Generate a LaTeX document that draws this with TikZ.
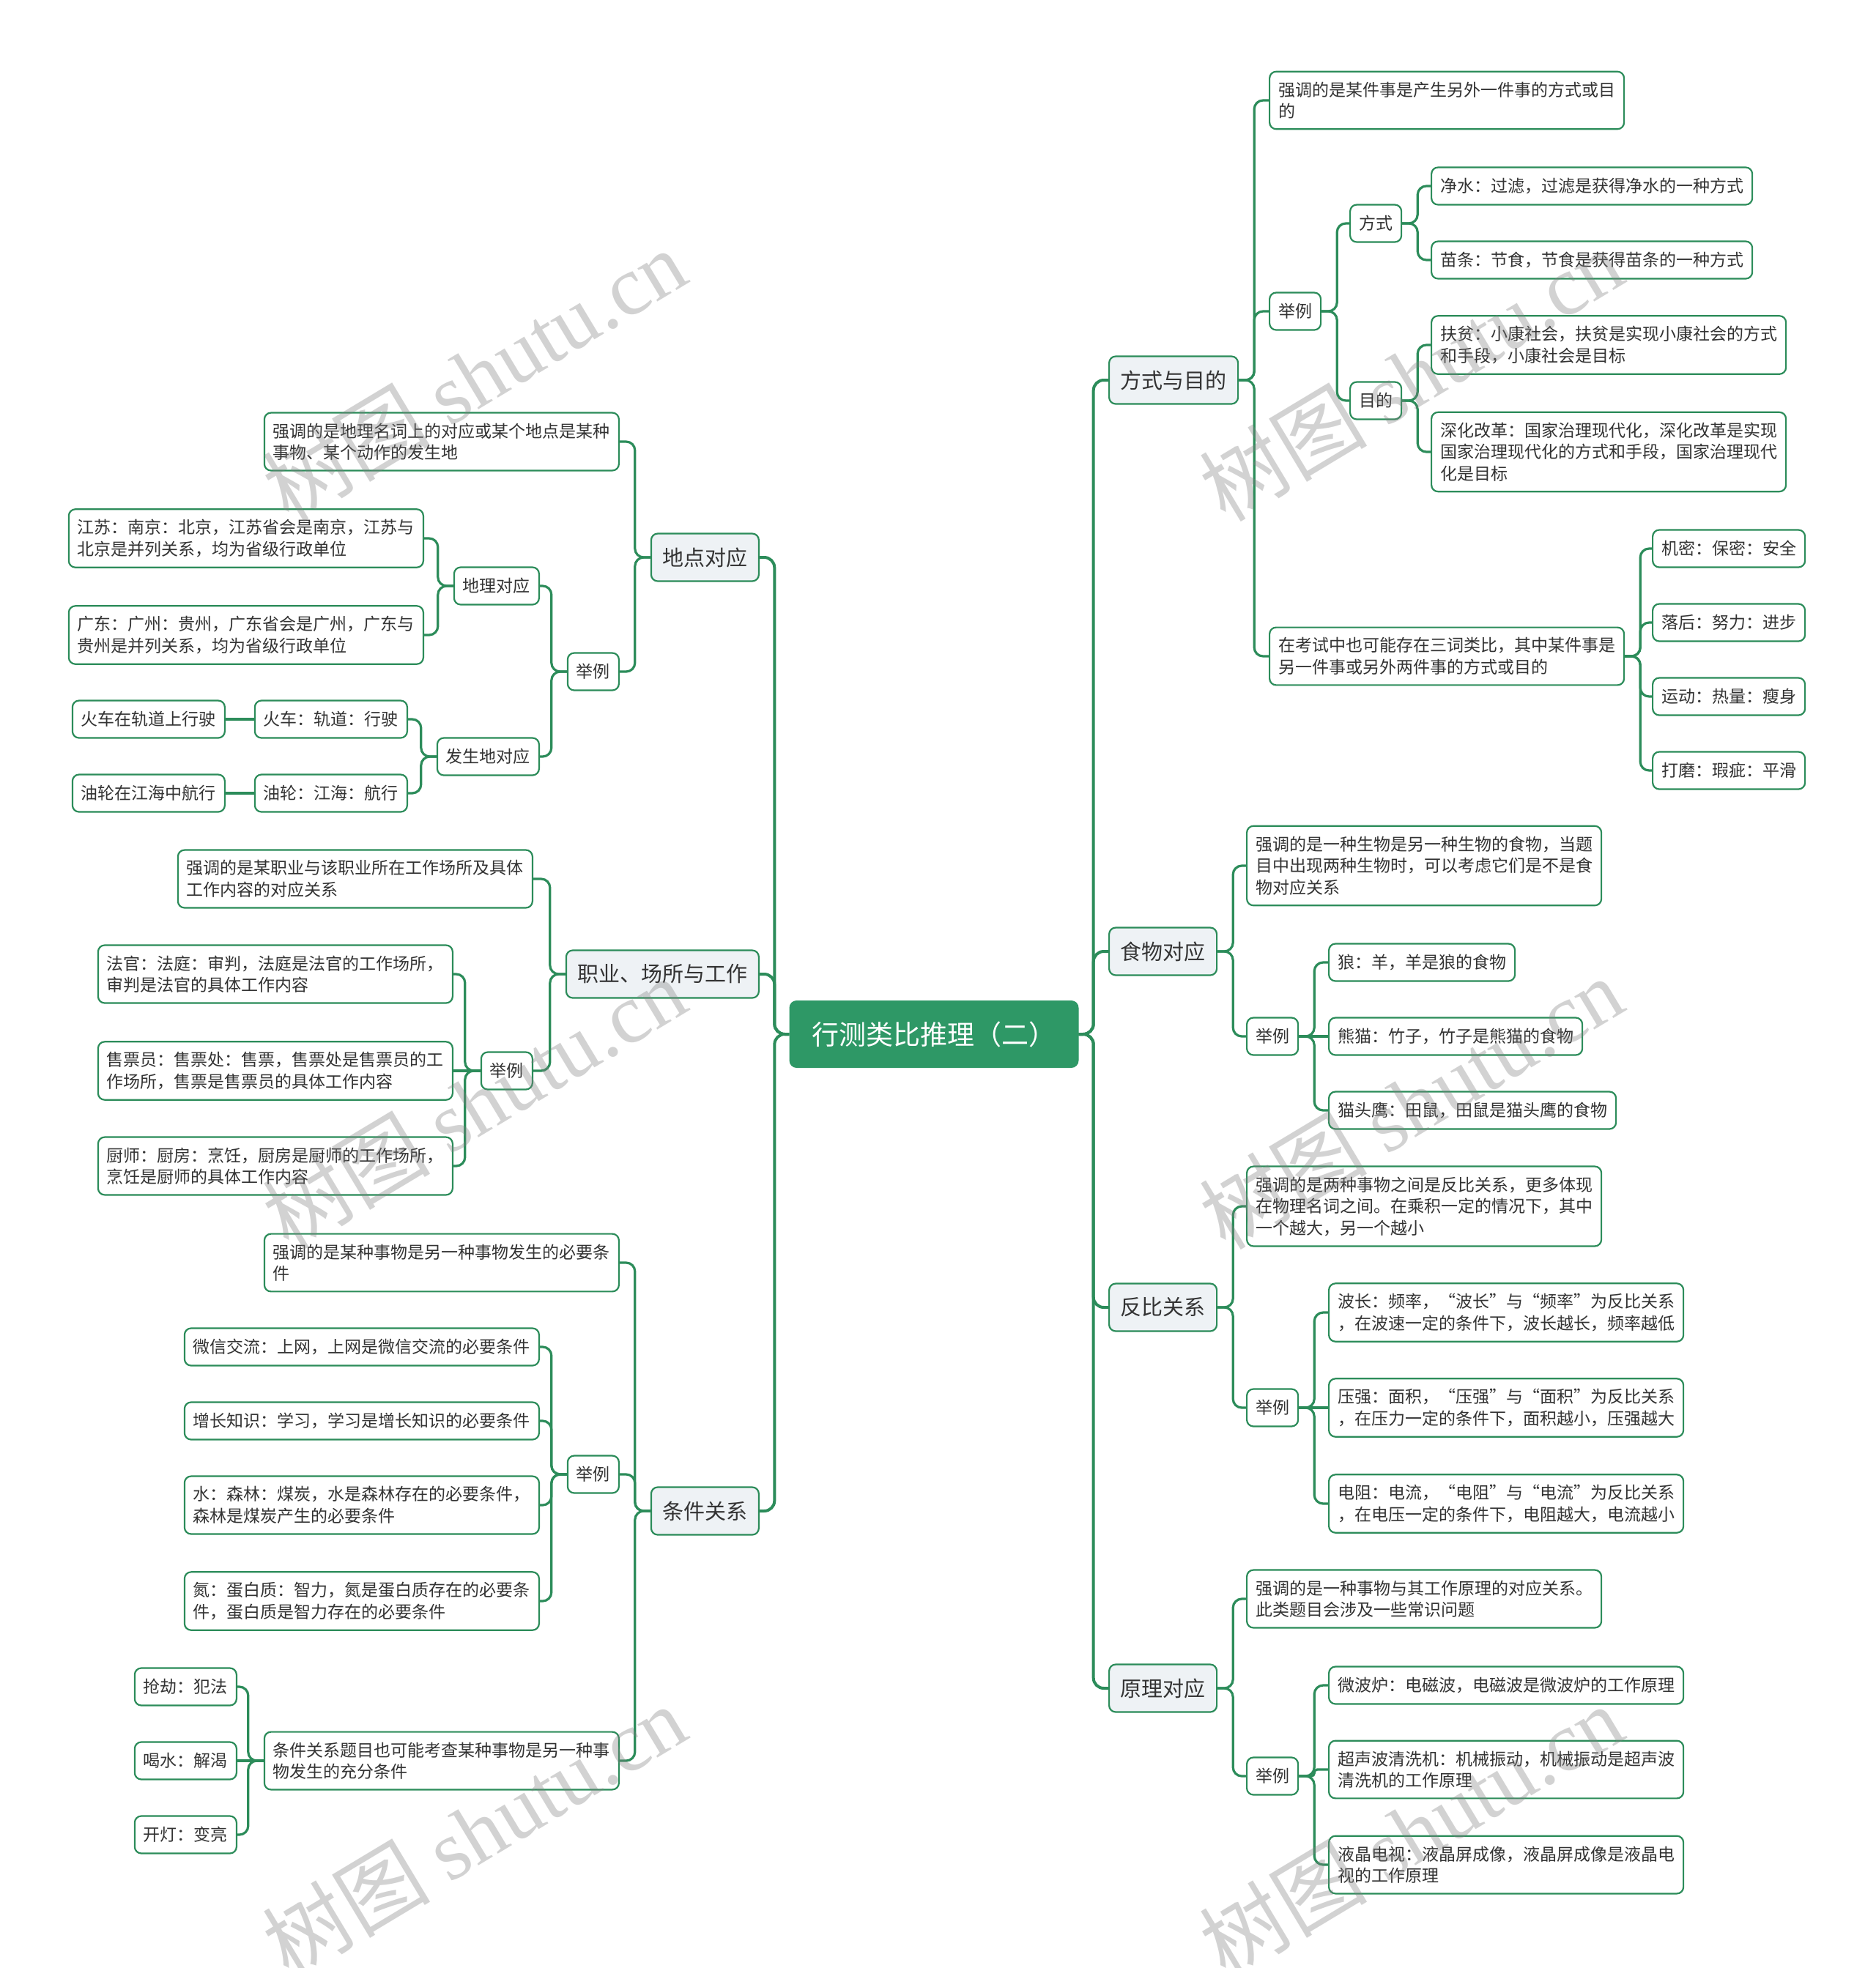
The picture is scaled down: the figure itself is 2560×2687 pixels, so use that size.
\documentclass[tikz,border=0pt]{standalone}
\usepackage{fontspec}
\setmainfont{Noto Sans CJK SC}
\newfontfamily\wmfont{Liberation Serif}
\definecolor{linegreen}{RGB}{44,140,90}
\definecolor{rootgreen}{RGB}{46,152,102}
\definecolor{topicfill}{RGB}{238,242,245}
\definecolor{textgray}{RGB}{51,51,51}

\begin{document}
\begin{tikzpicture}[x=1pt, y=-1pt,
    box/.style={draw=linegreen, line width=2.2pt, rounded corners=9pt, text=textgray, align=left},
    leaf/.style={box, fill=white, font=\fontsize{23}{29.5}\selectfont, inner xsep=12pt, inner ysep=14pt, minimum height=51pt},
    topic/.style={box, fill=topicfill, font=\fontsize{29}{36}\selectfont, inner xsep=15.5pt, inner ysep=12pt, minimum height=65pt},
    roottopic/.style={fill=rootgreen, text=white, rounded corners=10pt, font=\fontsize{37}{44}\selectfont, inner xsep=31pt, minimum height=92pt},
    trunk/.style={draw=linegreen, line width=4pt, rounded corners=14pt},
    branch/.style={draw=linegreen, line width=3.2pt, rounded corners=12pt},
    watermark/.style={text=black!50, opacity=0.35, rotate=31, font=\fontsize{115}{120}\selectfont}
  ]
    \fill[white] (0,0) rectangle (2560,2687);
    \useasboundingbox (0,0) rectangle (2560,2687);

    \node[roottopic] (root) at (1275,1412) {行测类比推理（二）};

    \node[topic, anchor=west] (fsmd) at (1513,519) {方式与目的};
    \node[topic, anchor=west] (swdy) at (1513,1299) {食物对应};
    \node[topic, anchor=west] (fbgx) at (1513,1785) {反比关系};
    \node[topic, anchor=west] (yldy) at (1513,2305) {原理对应};
    \node[topic, anchor=east] (dddy) at (1037,761) {地点对应};
    \node[topic, anchor=east] (zycs) at (1037,1330) {职业、场所与工作};
    \node[topic, anchor=east] (tjgx) at (1037,2063) {条件关系};

    \node[leaf, anchor=west] (fsmd-d1) at (1732,137) {强调的是某件事是产生另外一件事的方式或目\\的};
    \node[leaf, anchor=west] (fsmd-eg) at (1732,425) {举例};
    \node[leaf, anchor=west] (fsmd-d2) at (1732,896) {在考试中也可能存在三词类比，其中某件事是\\另一件事或另外两件事的方式或目的};
    \node[leaf, anchor=west] (fs) at (1842,305) {方式};
    \node[leaf, anchor=west] (md) at (1842,547) {目的};
    \node[leaf, anchor=west] (fs-1) at (1953,254) {净水：过滤，过滤是获得净水的一种方式};
    \node[leaf, anchor=west] (fs-2) at (1953,355) {苗条：节食，节食是获得苗条的一种方式};
    \node[leaf, anchor=west] (md-1) at (1953,471) {扶贫：小康社会，扶贫是实现小康社会的方式\\和手段，小康社会是目标};
    \node[leaf, anchor=west] (md-2) at (1953,617) {深化改革：国家治理现代化，深化改革是实现\\国家治理现代化的方式和手段，国家治理现代\\化是目标};
    \node[leaf, anchor=west] (sc-1) at (2255,749) {机密：保密：安全};
    \node[leaf, anchor=west] (sc-2) at (2255,850) {落后：努力：进步};
    \node[leaf, anchor=west] (sc-3) at (2255,951) {运动：热量：瘦身};
    \node[leaf, anchor=west] (sc-4) at (2255,1052) {打磨：瑕疵：平滑};

    \node[leaf, anchor=west] (swdy-d) at (1701,1182) {强调的是一种生物是另一种生物的食物，当题\\目中出现两种生物时，可以考虑它们是不是食\\物对应关系};
    \node[leaf, anchor=west] (swdy-eg) at (1701,1415) {举例};
    \node[leaf, anchor=west] (sw-1) at (1813,1314) {狼：羊，羊是狼的食物};
    \node[leaf, anchor=west] (sw-2) at (1813,1415) {熊猫：竹子，竹子是熊猫的食物};
    \node[leaf, anchor=west] (sw-3) at (1813,1516) {猫头鹰：田鼠，田鼠是猫头鹰的食物};

    \node[leaf, anchor=west] (fbgx-d) at (1701,1647) {强调的是两种事物之间是反比关系，更多体现\\在物理名词之间。在乘积一定的情况下，其中\\一个越大，另一个越小};
    \node[leaf, anchor=west] (fbgx-eg) at (1701,1922) {举例};
    \node[leaf, anchor=west] (fb-1) at (1813,1792) {波长：频率，“波长”与“频率”为反比关系\\，在波速一定的条件下，波长越长，频率越低};
    \node[leaf, anchor=west] (fb-2) at (1813,1922) {压强：面积，“压强”与“面积”为反比关系\\，在压力一定的条件下，面积越小，压强越大};
    \node[leaf, anchor=west] (fb-3) at (1813,2053) {电阻：电流，“电阻”与“电流”为反比关系\\，在电压一定的条件下，电阻越大，电流越小};

    \node[leaf, anchor=west] (yldy-d) at (1701,2183) {强调的是一种事物与其工作原理的对应关系。\\此类题目会涉及一些常识问题};
    \node[leaf, anchor=west] (yldy-eg) at (1701,2425) {举例};
    \node[leaf, anchor=west] (yl-1) at (1813,2301) {微波炉：电磁波，电磁波是微波炉的工作原理};
    \node[leaf, anchor=west] (yl-2) at (1813,2416) {超声波清洗机：机械振动，机械振动是超声波\\清洗机的工作原理};
    \node[leaf, anchor=west] (yl-3) at (1813,2546) {液晶电视：液晶屏成像，液晶屏成像是液晶电\\视的工作原理};

    \node[leaf, anchor=east] (dddy-d) at (846,603) {强调的是地理名词上的对应或某个地点是某种\\事物、某个动作的发生地};
    \node[leaf, anchor=east] (dddy-eg) at (846,917) {举例};
    \node[leaf, anchor=east] (dl) at (737,800) {地理对应};
    \node[leaf, anchor=east] (fsd) at (737,1033) {发生地对应};
    \node[leaf, anchor=east] (dl-1) at (579,735) {江苏：南京：北京，江苏省会是南京，江苏与\\北京是并列关系，均为省级行政单位};
    \node[leaf, anchor=east] (dl-2) at (579,867) {广东：广州：贵州，广东省会是广州，广东与\\贵州是并列关系，均为省级行政单位};
    \node[leaf, anchor=east] (fsd-1) at (557,982) {火车：轨道：行驶};
    \node[leaf, anchor=east] (fsd-2) at (557,1083) {油轮：江海：航行};
    \node[leaf, anchor=east] (fsd-1a) at (308,982) {火车在轨道上行驶};
    \node[leaf, anchor=east] (fsd-2a) at (308,1083) {油轮在江海中航行};

    \node[leaf, anchor=east] (zycs-d) at (728,1200) {强调的是某职业与该职业所在工作场所及具体\\工作内容的对应关系};
    \node[leaf, anchor=east] (zycs-eg) at (728,1462) {举例};
    \node[leaf, anchor=east] (zy-1) at (619,1330) {法官：法庭：审判，法庭是法官的工作场所，\\审判是法官的具体工作内容};
    \node[leaf, anchor=east] (zy-2) at (619,1462) {售票员：售票处：售票，售票处是售票员的工\\作场所，售票是售票员的具体工作内容};
    \node[leaf, anchor=east] (zy-3) at (619,1592) {厨师：厨房：烹饪，厨房是厨师的工作场所，\\烹饪是厨师的具体工作内容};

    \node[leaf, anchor=east] (tjgx-d) at (846,1724) {强调的是某种事物是另一种事物发生的必要条\\件};
    \node[leaf, anchor=east] (tjgx-eg) at (846,2013) {举例};
    \node[leaf, anchor=east] (tjgx-d2) at (846,2404) {条件关系题目也可能考查某种事物是另一种事\\物发生的充分条件};
    \node[leaf, anchor=east] (tj-1) at (737,1839) {微信交流：上网，上网是微信交流的必要条件};
    \node[leaf, anchor=east] (tj-2) at (737,1940) {增长知识：学习，学习是增长知识的必要条件};
    \node[leaf, anchor=east] (tj-3) at (737,2055) {水：森林：煤炭，水是森林存在的必要条件，\\森林是煤炭产生的必要条件};
    \node[leaf, anchor=east] (tj-4) at (737,2186) {氮：蛋白质：智力，氮是蛋白质存在的必要条\\件，蛋白质是智力存在的必要条件};
    \node[leaf, anchor=east] (cf-1) at (324,2303) {抢劫：犯法};
    \node[leaf, anchor=east] (cf-2) at (324,2404) {喝水：解渴};
    \node[leaf, anchor=east] (cf-3) at (324,2505) {开灯：变亮};

    \foreach \c in {fsmd, swdy, fbgx, yldy}
        \draw[trunk] (root.east) -- ++(20,0) |- (\c.west);
    \foreach \c in {dddy, zycs, tjgx}
        \draw[trunk] (root.west) -- ++(-20,0) |- (\c.east);

    \foreach \p/\c in {fsmd/fsmd-d1, fsmd/fsmd-eg, fsmd/fsmd-d2, fsmd-eg/fs, fsmd-eg/md, fs/fs-1, fs/fs-2, md/md-1, md/md-2,
        fsmd-d2/sc-1, fsmd-d2/sc-2, fsmd-d2/sc-3, fsmd-d2/sc-4, swdy/swdy-d, swdy/swdy-eg, swdy-eg/sw-1, swdy-eg/sw-3,
        fbgx/fbgx-d, fbgx/fbgx-eg, fbgx-eg/fb-1, fbgx-eg/fb-3, yldy/yldy-d, yldy/yldy-eg, yldy-eg/yl-1, yldy-eg/yl-3}
        \draw[branch] (\p.east) -- ++(21,0) |- (\c.west);
    \draw[branch, rounded corners=4pt] (yldy-eg.east) -- ++(21,0) |- (yl-2.west);
    \foreach \p/\c in {swdy-eg/sw-2, fbgx-eg/fb-2}
        \draw[branch] (\p.east) -- (\c.west);

    \foreach \p/\c in {dddy/dddy-d, dddy/dddy-eg, dddy-eg/dl, dddy-eg/fsd, dl/dl-1, dl/dl-2, fsd/fsd-1, fsd/fsd-2,
        zycs/zycs-d, zycs/zycs-eg, zycs-eg/zy-1, zycs-eg/zy-3, tjgx/tjgx-d, tjgx/tjgx-eg, tjgx/tjgx-d2,
        tjgx-eg/tj-1, tjgx-eg/tj-2, tjgx-eg/tj-3, tjgx-eg/tj-4, tjgx-d2/cf-1, tjgx-d2/cf-3}
        \draw[branch] (\p.west) -- ++(-21,0) |- (\c.east);
    \foreach \p/\c in {zycs-eg/zy-2, tjgx-d2/cf-2, fsd-1/fsd-1a, fsd-2/fsd-2a}
        \draw[branch] (\p.west) -- (\c.east);

    \foreach \wx in {647,1926}
        \foreach \wy in {512,1506,2500}
            \node[watermark] (wm-\wx-\wy) at (\wx,\wy) {树图 {\wmfont shutu.cn}};
\end{tikzpicture}
\end{document}
